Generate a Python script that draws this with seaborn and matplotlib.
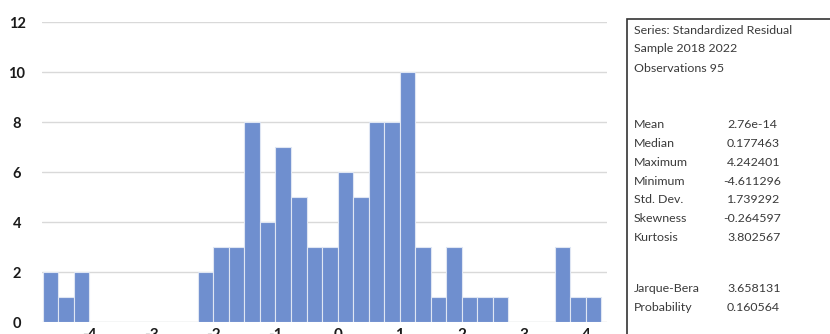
import numpy as np
import pandas as pd
import matplotlib
matplotlib.use("Agg")
import matplotlib.pyplot as plt
import seaborn as sns

# Histogram data (bin width 0.25, from -4.75 to 4.25)
bin_edges = [-4.75 + 0.25 * i for i in range(37)]
counts = [2, 1, 2, 0, 0, 0, 0, 0, 0, 0,
          2, 3, 3, 8, 4, 7, 5, 3, 3, 6,
          5, 8, 8, 10, 3, 1, 3, 1, 1, 1,
          0, 0, 0, 3, 1, 1]
x_ticks = [-4, -3, -2, -1, 0, 1, 2, 3, 4]
y_ticks = [0, 2, 4, 6, 8, 10, 12]

stat_header = ["Series: Standardized Residual", "Sample 2018 2022", "Observations 95"]
stat_names = ["Mean", "Median", "Maximum", "Minimum", "Std. Dev.", "Skewness", "Kurtosis"]
stat_values = ["2.76e-14", "0.177463", "4.242401", "-4.611296", "1.739292", "-0.264597", "3.802567"]
test_names = ["Jarque-Bera", "Probability"]
test_values = ["3.658131", "0.160564"]

sns.set_theme(style="white")
plt.rcParams['font.family'] = ['Lato', 'DejaVu Sans']

centers = [(bin_edges[i] + bin_edges[i + 1]) / 2 for i in range(len(counts))]
df = pd.DataFrame({"center": centers, "count": counts})

W, H = 830, 334
fig = plt.figure(figsize=(W / 100, H / 100), dpi=100)
ax = fig.add_axes([42 / W, (H - 322) / H, (607 - 42) / W, 300 / H])

sns.histplot(data=df, x="center", weights="count", bins=bin_edges, ax=ax,
             color="#6f8fcf", alpha=1.0, edgecolor="#dfe6f3", linewidth=0.8, zorder=3)

ax.set_xlim(bin_edges[0] - 0.01, bin_edges[0] + (607 - 43.5) / 62.0)
ax.set_ylim(0, 12)
ax.set_yticks(y_ticks)
ax.set_xticks(x_ticks)
ax.set_xticklabels([str(v) for v in x_ticks])
ax.set_xlabel("")
ax.set_ylabel("")
for s in ax.spines.values():
    s.set_visible(False)
ax.grid(axis="y", color="#d9d9d9", linewidth=1.0, zorder=0)
ax.grid(axis="x", visible=False)
ax.tick_params(axis="y", length=0, pad=18, labelsize=10.5, labelcolor="#1a1a1a")
ax.tick_params(axis="x", length=0, pad=4, labelsize=11, labelcolor="#1a1a1a")
for lbl in ax.get_yticklabels():
    lbl.set_horizontalalignment("center")
    lbl.set_fontweight("bold")
for lbl in ax.get_xticklabels():
    lbl.set_fontweight("bold")

# Stats box
box = plt.Rectangle((627 / W, (H - 345) / H), (840 - 627) / W, (345 - 19) / H,
                    transform=fig.transFigure, fill=False, edgecolor="#333333",
                    linewidth=1.2, clip_on=False)
fig.add_artist(box)

fs = 8.9
tcol = "#3a3a3a"
x0 = 634 / W
xv = 727 / W
ys = [30, 49, 68]
for y, t in zip(ys, stat_header):
    fig.text(x0, (H - y) / H, t, fontsize=fs, color=tcol, va="center", ha="left")
for i, (n, v) in enumerate(zip(stat_names, stat_values)):
    y = 125 + i * 18.7
    fig.text(x0, (H - y) / H, n, fontsize=fs, color=tcol, va="center", ha="left")
    fig.text(xv if not v.startswith("-") else xv - 4 / W, (H - y) / H, v,
             fontsize=fs, color=tcol, va="center", ha="left")
for i, (n, v) in enumerate(zip(test_names, test_values)):
    y = 289 + i * 18.7
    fig.text(x0, (H - y) / H, n, fontsize=fs, color=tcol, va="center", ha="left")
    fig.text(xv, (H - y) / H, v, fontsize=fs, color=tcol, va="center", ha="left")

fig.savefig("out.png", dpi=100)
